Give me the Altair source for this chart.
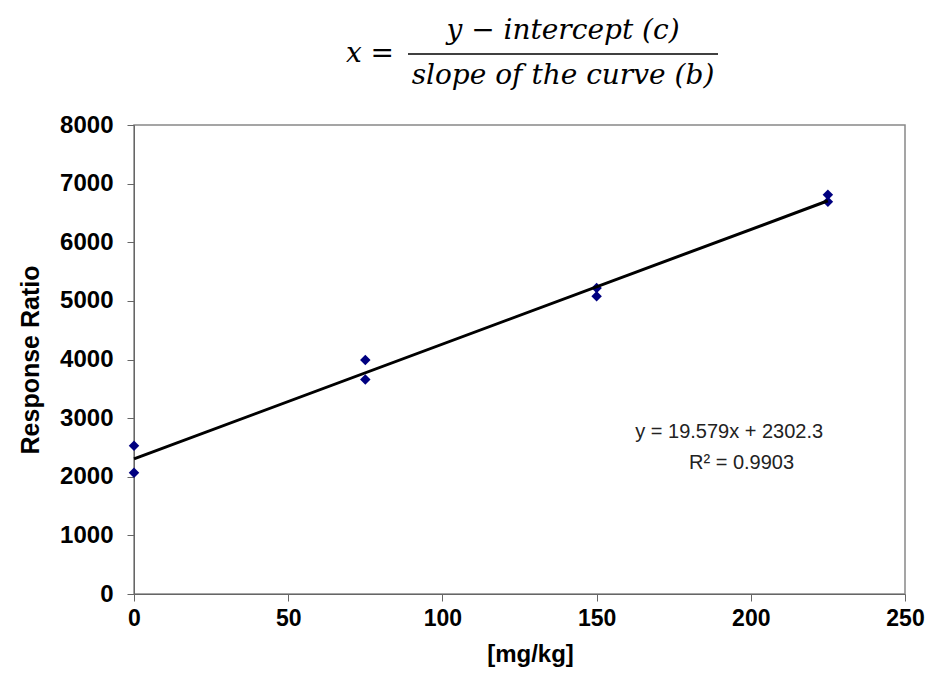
import altair as alt
import pandas as pd

# data
conc = [0, 0, 75, 75, 150, 150, 225, 225]
response = [2530, 2070, 3990, 3660, 5220, 5080, 6810, 6690]

eq_lines = ["y = 19.579x + 2302.3", "R² = 0.9903"]
eq_x = [193, 197]
eq_y = [2770, 2240]

df = pd.DataFrame({"conc": conc, "resp": response})
eq_df = pd.DataFrame({"t": eq_lines, "x": eq_x, "y": eq_y})

W, H = 771, 469

xscale = alt.Scale(domain=[0, 250], nice=False, zero=True)
yscale = alt.Scale(domain=[0, 8000], nice=False)

xax = alt.Axis(values=[0, 50, 100, 150, 200, 250], format="d", title="[mg/kg]", grid=False,
               tickSize=7, labelPadding=6, titlePadding=12, domainColor="#666666",
               tickColor="#666666", labelFontSize=23, labelFont="Liberation Sans",
               labelFontWeight="bold", labelColor="black", titleFontSize=24,
               titleFont="Liberation Sans", titleFontWeight="bold", titleColor="black",
               titleX=396, labelFlush=False)
yax = alt.Axis(values=list(range(0, 8001, 1000)), format="d", title="Response Ratio", grid=False,
               tickSize=7, labelPadding=14, titlePadding=16, domainColor="#666666",
               tickColor="#666666", labelFontSize=24, labelFont="Liberation Sans",
               labelFontWeight="bold", labelColor="black", titleFontSize=25,
               titleFont="Liberation Sans", titleFontWeight="bold", titleColor="black")

base = alt.Chart(df)

points = base.mark_point(shape="diamond", filled=True, color="#000080", size=110, opacity=1).encode(
    x=alt.X("conc:Q", scale=xscale, axis=xax),
    y=alt.Y("resp:Q", scale=yscale, axis=yax),
)

trend = base.transform_regression("conc", "resp").mark_line(color="black", strokeWidth=3).encode(
    x=alt.X("conc:Q", scale=xscale),
    y=alt.Y("resp:Q", scale=yscale),
)

eq = alt.Chart(eq_df).mark_text(font="Liberation Sans", fontSize=20, color="#222222",
                                 align="center", baseline="middle").encode(
    x=alt.X("x:Q", scale=xscale),
    y=alt.Y("y:Q", scale=yscale),
    text="t:N",
)

# formula above the plot (annotation, pixel positions)
ff = "DejaVu Serif"
f_x = alt.Chart(pd.DataFrame({"t": ["x ="]})).mark_text(
    font=ff, fontStyle="italic", fontSize=28, align="center", baseline="middle", color="black"
).encode(x=alt.value(236), y=alt.value(-71), text="t:N")
f_num = alt.Chart(pd.DataFrame({"t": ["y − intercept (c)"]})).mark_text(
    font=ff, fontStyle="italic", fontSize=28, align="center", baseline="middle", color="black"
).encode(x=alt.value(429), y=alt.value(-94), text="t:N")
f_den = alt.Chart(pd.DataFrame({"t": ["slope of the curve (b)"]})).mark_text(
    font=ff, fontStyle="italic", fontSize=28, align="center", baseline="middle", color="black"
).encode(x=alt.value(429), y=alt.value(-49), text="t:N")
f_bar = alt.Chart(pd.DataFrame({"a": [0]})).mark_rule(color="black", strokeWidth=1.5).encode(
    x=alt.value(274), x2=alt.value(584), y=alt.value(-71)
)

chart = alt.layer(points, trend, eq, f_x, f_num, f_den, f_bar).properties(
    width=W, height=H,
    autosize=alt.AutoSizeParams(type="none"),
    padding={"left": 126, "top": 117, "right": 20, "bottom": 79},
    background="white",
).configure_view(stroke="#888888", strokeWidth=1.5)

chart.save("out.html", embed_options={"renderer": "svg", "actions": False})
